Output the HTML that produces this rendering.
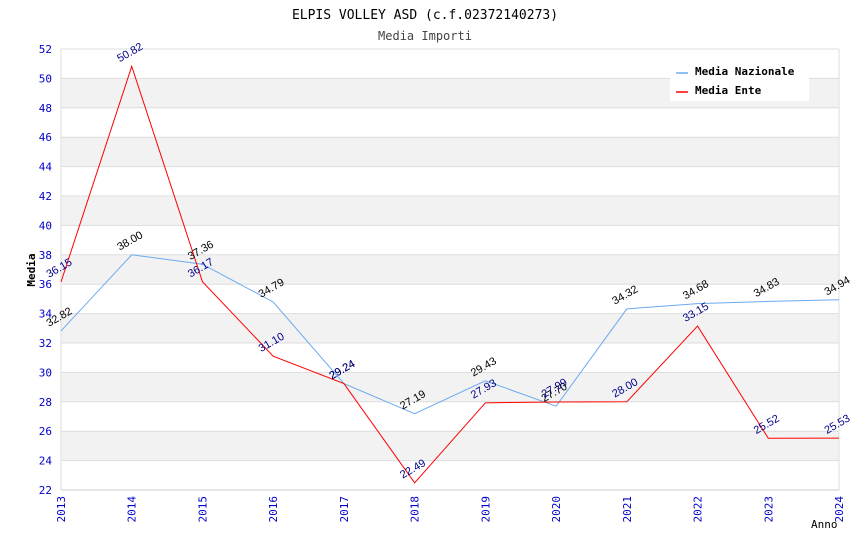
<!DOCTYPE html>
<html><head><meta charset="utf-8"><style>
body{margin:0;background:#fff}
svg{display:block;font-family:"DejaVu Sans Mono","Liberation Mono",monospace}
</style></head><body>
<svg id="c" width="850" height="550" xmlns="http://www.w3.org/2000/svg">
<text x="425" y="19" text-anchor="middle" font-size="13" fill="#000">ELPIS VOLLEY ASD (c.f.02372140273)</text>
<text x="425" y="40" text-anchor="middle" font-size="12" fill="#444">Media Importi</text>
<g id="bands"></g><g id="grid"></g><g id="axes"></g><g id="lines"></g><g id="labels"></g>
<text x="35" y="270" transform="rotate(-90 35 270)" text-anchor="middle" font-size="11" font-weight="bold">Media</text>
<text x="811" y="528" font-size="11">Anno</text>
<g>
<rect x="670" y="60" width="139" height="41" fill="#fff"/>
<line x1="676" y1="73" x2="688" y2="73" stroke="#6aaaf0" stroke-width="1.5"/>
<text x="695" y="75" font-size="11" font-weight="bold">Media Nazionale</text>
<line x1="676" y1="92" x2="688" y2="92" stroke="#f00" stroke-width="1.5"/>
<text x="695" y="94" font-size="11" font-weight="bold">Media Ente</text>
</g>
</svg>
<script>
const years=[2013,2014,2015,2016,2017,2018,2019,2020,2021,2022,2023,2024];
const nazionale=[32.82,38.00,37.36,34.79,29.24,27.19,29.43,27.70,34.32,34.68,34.83,34.94];
const ente=[36.15,50.82,36.17,31.10,29.24,22.49,27.93,27.99,28.00,33.15,25.52,25.53];
const yTicks=[22,24,26,28,30,32,34,36,38,40,42,44,46,48,50,52];
const NS="http://www.w3.org/2000/svg";
const X0=61,X1=839,Y0=490,Y1=49;
const xs=i=>X0+(X1-X0)*i/(years.length-1);
const ys=v=>Y0-(v-22)*(Y0-Y1)/30;
function mk(t,a,p){const e=document.createElementNS(NS,t);for(const k in a)e.setAttribute(k,a[k]);p.appendChild(e);return e;}
const bands=document.getElementById('bands'),grid=document.getElementById('grid'),axes=document.getElementById('axes');
for(let v=24;v<52;v+=4){const r=mk('rect',{x:X0,y:ys(v+2),width:X1-X0,height:ys(v)-ys(v+2),fill:'#f2f2f2'},bands);

}
yTicks.forEach(v=>{const l=mk('line',{x1:X0,x2:X1,y1:ys(v),y2:ys(v),stroke:'#ddd','stroke-width':1},grid);


const t=mk('text',{x:52,y:ys(v)+4,'text-anchor':'end','font-size':11,fill:'#00c'},axes);t.textContent=v;

});
years.forEach((y,i)=>{const x=xs(i);
const t=mk('text',{x:x+4,y:Y0+6,transform:`rotate(-90 ${x+4} ${Y0+6})`,'text-anchor':'end','font-size':11,fill:'#00c'},axes);t.textContent=y;

});
mk('line',{x1:X0,x2:X0,y1:Y1,y2:Y0,stroke:'#ddd'},axes);
mk('line',{x1:X1,x2:X1,y1:Y1,y2:Y0,stroke:'#ddd'},axes);
mk('line',{x1:X0,x2:X1,y1:Y0,y2:Y0,stroke:'#ccc'},axes);
const lines=document.getElementById('lines'),labels=document.getElementById('labels');
function series(d,col,lc,name){
const p=mk('polyline',{points:d.map((v,i)=>xs(i)+','+ys(v)).join(' '),fill:'none',stroke:col,'stroke-width':1},lines);


d.forEach((v,i)=>{const x=xs(i)-12,y=ys(v)-4;
const t=mk('text',{x:x,y:y,transform:`rotate(-30 ${x} ${y})`,'font-size':11,fill:lc,'font-family':'Liberation Sans, sans-serif'},labels);
t.textContent=v.toFixed(2);

});}
series(nazionale,'#6aaaf0','#000','nazionale');
series(ente,'#f00','#00008b','ente');
</script>
</body></html>
